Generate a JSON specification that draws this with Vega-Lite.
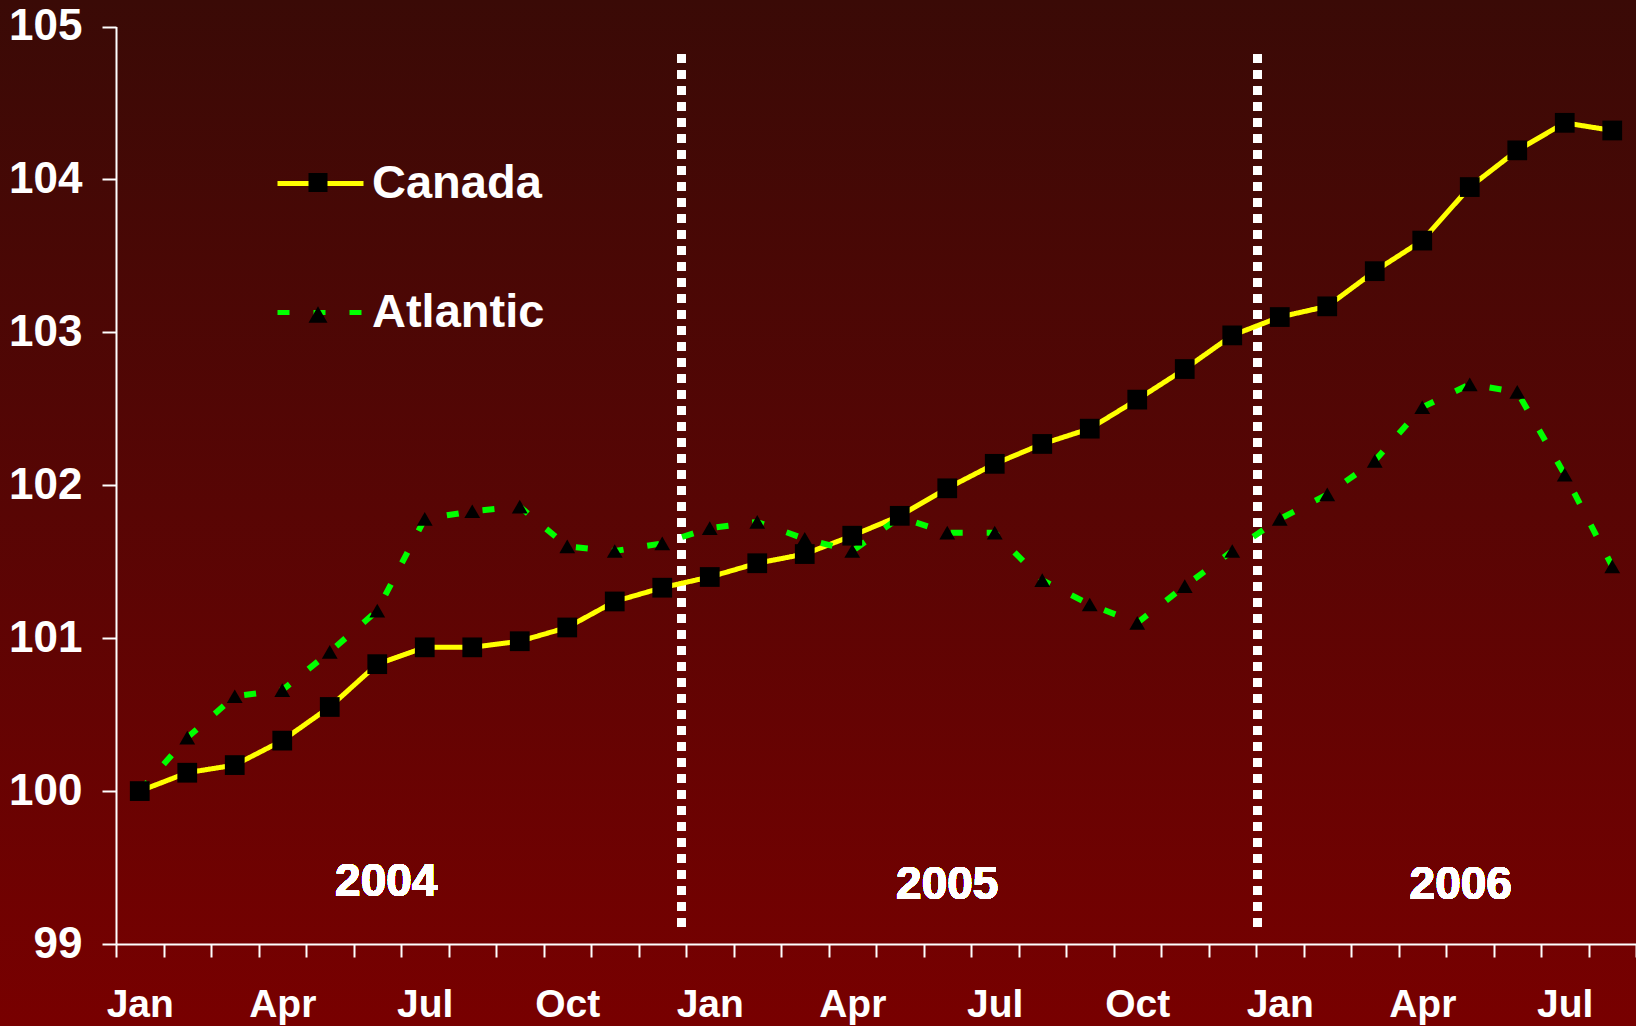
{
  "$schema": "https://vega.github.io/schema/vega-lite/v6.json",
  "width": 1636,
  "height": 1026,
  "autosize": {"type": "none"},
  "padding": 0,
  "background": "#680303",
  "config": {
    "view": {
      "stroke": null,
      "fill": {
        "gradient": "linear",
        "x1": 0, "y1": 0, "x2": 0, "y2": 1,
        "stops": [
          {"offset": 0, "color": "#3a0a06"},
          {"offset": 0.5, "color": "#580504"},
          {"offset": 1, "color": "#780000"}
        ]
      }
    },
    "font": "Liberation Sans"
  },
  "data": {
    "values": [
      {"m": "2004-01", "s": "Canada", "v": 100.00},
      {"m": "2004-02", "s": "Canada", "v": 100.12},
      {"m": "2004-03", "s": "Canada", "v": 100.17},
      {"m": "2004-04", "s": "Canada", "v": 100.33},
      {"m": "2004-05", "s": "Canada", "v": 100.55},
      {"m": "2004-06", "s": "Canada", "v": 100.83},
      {"m": "2004-07", "s": "Canada", "v": 100.94},
      {"m": "2004-08", "s": "Canada", "v": 100.94},
      {"m": "2004-09", "s": "Canada", "v": 100.98},
      {"m": "2004-10", "s": "Canada", "v": 101.07},
      {"m": "2004-11", "s": "Canada", "v": 101.24},
      {"m": "2004-12", "s": "Canada", "v": 101.33},
      {"m": "2005-01", "s": "Canada", "v": 101.40},
      {"m": "2005-02", "s": "Canada", "v": 101.49},
      {"m": "2005-03", "s": "Canada", "v": 101.55},
      {"m": "2005-04", "s": "Canada", "v": 101.67},
      {"m": "2005-05", "s": "Canada", "v": 101.80},
      {"m": "2005-06", "s": "Canada", "v": 101.98},
      {"m": "2005-07", "s": "Canada", "v": 102.14},
      {"m": "2005-08", "s": "Canada", "v": 102.27},
      {"m": "2005-09", "s": "Canada", "v": 102.37},
      {"m": "2005-10", "s": "Canada", "v": 102.56},
      {"m": "2005-11", "s": "Canada", "v": 102.76},
      {"m": "2005-12", "s": "Canada", "v": 102.98},
      {"m": "2006-01", "s": "Canada", "v": 103.10},
      {"m": "2006-02", "s": "Canada", "v": 103.17},
      {"m": "2006-03", "s": "Canada", "v": 103.40},
      {"m": "2006-04", "s": "Canada", "v": 103.60},
      {"m": "2006-05", "s": "Canada", "v": 103.95},
      {"m": "2006-06", "s": "Canada", "v": 104.19},
      {"m": "2006-07", "s": "Canada", "v": 104.37},
      {"m": "2006-08", "s": "Canada", "v": 104.32},
      {"m": "2004-01", "s": "Atlantic", "v": 100.00},
      {"m": "2004-02", "s": "Atlantic", "v": 100.35},
      {"m": "2004-03", "s": "Atlantic", "v": 100.62},
      {"m": "2004-04", "s": "Atlantic", "v": 100.66},
      {"m": "2004-05", "s": "Atlantic", "v": 100.91},
      {"m": "2004-06", "s": "Atlantic", "v": 101.18},
      {"m": "2004-07", "s": "Atlantic", "v": 101.78},
      {"m": "2004-08", "s": "Atlantic", "v": 101.83},
      {"m": "2004-09", "s": "Atlantic", "v": 101.86},
      {"m": "2004-10", "s": "Atlantic", "v": 101.60},
      {"m": "2004-11", "s": "Atlantic", "v": 101.57},
      {"m": "2004-12", "s": "Atlantic", "v": 101.62},
      {"m": "2005-01", "s": "Atlantic", "v": 101.72},
      {"m": "2005-02", "s": "Atlantic", "v": 101.76},
      {"m": "2005-03", "s": "Atlantic", "v": 101.65},
      {"m": "2005-04", "s": "Atlantic", "v": 101.57},
      {"m": "2005-05", "s": "Atlantic", "v": 101.79},
      {"m": "2005-06", "s": "Atlantic", "v": 101.69},
      {"m": "2005-07", "s": "Atlantic", "v": 101.69},
      {"m": "2005-08", "s": "Atlantic", "v": 101.38},
      {"m": "2005-09", "s": "Atlantic", "v": 101.22},
      {"m": "2005-10", "s": "Atlantic", "v": 101.10},
      {"m": "2005-11", "s": "Atlantic", "v": 101.34},
      {"m": "2005-12", "s": "Atlantic", "v": 101.57},
      {"m": "2006-01", "s": "Atlantic", "v": 101.78},
      {"m": "2006-02", "s": "Atlantic", "v": 101.94},
      {"m": "2006-03", "s": "Atlantic", "v": 102.16},
      {"m": "2006-04", "s": "Atlantic", "v": 102.51},
      {"m": "2006-05", "s": "Atlantic", "v": 102.66},
      {"m": "2006-06", "s": "Atlantic", "v": 102.61},
      {"m": "2006-07", "s": "Atlantic", "v": 102.07},
      {"m": "2006-08", "s": "Atlantic", "v": 101.47}
    ]
  },
  "encoding": {
    "x": {
      "field": "m",
      "type": "ordinal",
      "scale": {
        "type": "band",
        "domain": ["2004-01", "2004-02", "2004-03", "2004-04", "2004-05", "2004-06", "2004-07", "2004-08", "2004-09", "2004-10", "2004-11", "2004-12",
                   "2005-01", "2005-02", "2005-03", "2005-04", "2005-05", "2005-06", "2005-07", "2005-08", "2005-09", "2005-10", "2005-11", "2005-12",
                   "2006-01", "2006-02", "2006-03", "2006-04", "2006-05", "2006-06", "2006-07", "2006-08"],
        "range": [116, 1636], "paddingInner": 0, "paddingOuter": 0
      },
      "axis": {
        "title": null,
        "orient": "bottom",
        "offset": -82,
        "tickBand": "extent",
        "tickSize": 13,
        "tickWidth": 2,
        "tickColor": "#ffffff",
        "domainColor": "#ffffff",
        "domainWidth": 2,
        "labelAngle": 0,
        "labelOverlap": false,
        "labelFont": "Liberation Sans",
        "labelFontWeight": "bold",
        "labelFontSize": 39,
        "labelColor": "#ffffff",
        "labelPadding": 28,
        "labelExpr": "substring(datum.value, 5, 7) == '01' ? 'Jan' : substring(datum.value, 5, 7) == '04' ? 'Apr' : substring(datum.value, 5, 7) == '07' ? 'Jul' : substring(datum.value, 5, 7) == '10' ? 'Oct' : ''"
      }
    },
    "y": {
      "field": "v",
      "type": "quantitative",
      "scale": {"domain": [99, 105], "range": [944, 26.5], "nice": false, "zero": false},
      "axis": {
        "title": null,
        "orient": "left",
        "offset": -116,
        "values": [99, 100, 101, 102, 103, 104, 105],
        "grid": false,
        "tickSize": 14,
        "tickWidth": 2,
        "tickColor": "#ffffff",
        "domainColor": "#ffffff",
        "domainWidth": 2,
        "labelFont": "Liberation Sans",
        "labelFontWeight": "bold",
        "labelFontSize": 44,
        "labelColor": "#ffffff",
        "labelPadding": 20
      }
    }
  },
  "layer": [
    {
      "mark": {"type": "rule", "color": "#ffffff", "strokeWidth": 8, "strokeDash": [8, 8], "strokeCap": "butt"},
      "encoding": {
        "x": {"datum": "2004-12", "type": "ordinal", "bandPosition": 0.9},
        "y": {"datum": 104.816},
        "y2": {"datum": 99.109}
      }
    },
    {
      "mark": {"type": "rule", "color": "#ffffff", "strokeWidth": 8, "strokeDash": [8, 8], "strokeCap": "butt"},
      "encoding": {
        "x": {"datum": "2006-01", "type": "ordinal", "bandPosition": 0.03},
        "y": {"datum": 104.816},
        "y2": {"datum": 99.109}
      }
    },
    {
      "transform": [{"filter": "datum.s == 'Canada'"}],
      "mark": {"type": "line", "strokeWidth": 5, "strokeCap": "round", "strokeJoin": "round"},
      "encoding": {
        "color": {
          "field": "s", "type": "nominal",
          "scale": {"domain": ["Canada", "Atlantic"], "range": ["#ffff00", "#00ff00"]},
          "legend": {
            "orient": "none", "legendX": 275, "legendY": 138, "title": null, "padding": 0,
            "direction": "vertical", "symbolType": "stroke", "symbolSize": 7396, "symbolStrokeWidth": 5,
            "labelFont": "Liberation Sans", "labelFontWeight": "bold", "labelFontSize": 47, "labelLimit": 400,
            "labelColor": "#ffffff", "labelOffset": 6, "rowPadding": 60
          }
        },
        "strokeDash": {
          "field": "s", "type": "nominal",
          "scale": {"domain": ["Canada", "Atlantic"], "range": [[1, 0], [12, 24]]},
          "legend": {
            "orient": "none", "legendX": 275, "legendY": 138, "title": null, "padding": 0,
            "direction": "vertical", "symbolType": "stroke", "symbolSize": 7396, "symbolStrokeWidth": 5,
            "labelFont": "Liberation Sans", "labelFontWeight": "bold", "labelFontSize": 47, "labelLimit": 400,
            "labelColor": "#ffffff", "labelOffset": 6, "rowPadding": 60
          }
        }
      }
    },
    {
      "transform": [{"filter": "datum.s == 'Atlantic'"}],
      "mark": {"type": "line", "strokeWidth": 6, "strokeCap": "butt"},
      "encoding": {
        "color": {"field": "s", "type": "nominal"},
        "strokeDash": {"field": "s", "type": "nominal"}
      }
    },
    {
      "transform": [{"filter": "datum.s == 'Atlantic'"}],
      "mark": {"type": "point", "filled": true, "color": "#000000", "opacity": 1, "strokeWidth": 0, "size": 250},
      "encoding": {
        "shape": {
          "field": "s", "type": "nominal", "sort": "descending",
          "scale": {"range": ["square", "triangle-up"]},
          "legend": {
            "orient": "none", "legendX": 308.5, "legendY": 173, "title": null, "padding": 0,
            "direction": "vertical", "symbolSize": 361, "symbolFillColor": "#000000",
            "symbolStrokeColor": "transparent", "symbolStrokeWidth": 0,
            "labelExpr": "''", "labelOffset": 0, "rowPadding": 113,
            "encode": {"symbols": {"update": {"size": {"signal": "datum.value === 'Canada' ? 361 : 250"}}}}
          }
        }
      }
    },
    {
      "transform": [{"filter": "datum.s == 'Canada'"}],
      "mark": {"type": "point", "filled": true, "color": "#000000", "opacity": 1, "strokeWidth": 0, "size": 390},
      "encoding": {
        "shape": {"field": "s", "type": "nominal", "sort": "descending"}
      }
    },
    {
      "mark": {"type": "text", "text": "2004", "font": "Liberation Sans", "fontWeight": "bold", "fontSize": 46, "color": "#ffffff", "align": "center", "baseline": "alphabetic", "dx": 9},
      "encoding": {
        "x": {"datum": "2004-06", "type": "ordinal"},
        "y": {"datum": 99.311}
      }
    },
    {
      "mark": {"type": "text", "text": "2005", "font": "Liberation Sans", "fontWeight": "bold", "fontSize": 46, "color": "#ffffff", "align": "center", "baseline": "alphabetic"},
      "encoding": {
        "x": {"datum": "2005-06", "type": "ordinal"},
        "y": {"datum": 99.295}
      }
    },
    {
      "mark": {"type": "text", "text": "2006", "font": "Liberation Sans", "fontWeight": "bold", "fontSize": 46, "color": "#ffffff", "align": "center", "baseline": "alphabetic", "dx": -9},
      "encoding": {
        "x": {"datum": "2006-05", "type": "ordinal"},
        "y": {"datum": 99.295}
      }
    }
  ]
}
